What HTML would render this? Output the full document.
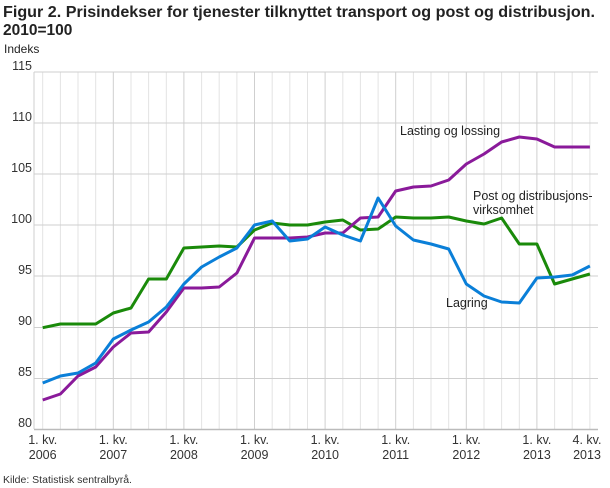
<!DOCTYPE html>
<html><head><meta charset="utf-8"><style>
body{margin:0;background:#fff;}
svg{display:block;font-family:"Liberation Sans",sans-serif;}
</style></head><body>
<svg width="610" height="488" viewBox="0 0 610 488" xmlns="http://www.w3.org/2000/svg">
<text x="3" y="17" font-size="15.5" font-weight="bold" fill="#222" textLength="592" lengthAdjust="spacingAndGlyphs">Figur 2. Prisindekser for tjenester tilknyttet transport og post og distribusjon.</text>
<text x="3" y="35" font-size="15.5" font-weight="bold" fill="#222">2010=100</text>
<text x="4" y="53" font-size="12" fill="#222">Indeks</text>
<g stroke="#e3e3e3" stroke-width="1">
<line x1="42.7" y1="72" x2="42.7" y2="429"/><line x1="60.4" y1="72" x2="60.4" y2="429"/><line x1="78" y1="72" x2="78" y2="429"/><line x1="95.7" y1="72" x2="95.7" y2="429"/>
<line x1="131" y1="72" x2="131" y2="429"/><line x1="148.6" y1="72" x2="148.6" y2="429"/><line x1="166.3" y1="72" x2="166.3" y2="429"/>
<line x1="201.6" y1="72" x2="201.6" y2="429"/><line x1="219.2" y1="72" x2="219.2" y2="429"/><line x1="236.9" y1="72" x2="236.9" y2="429"/>
<line x1="272.2" y1="72" x2="272.2" y2="429"/><line x1="289.8" y1="72" x2="289.8" y2="429"/><line x1="307.5" y1="72" x2="307.5" y2="429"/>
<line x1="342.8" y1="72" x2="342.8" y2="429"/><line x1="360.4" y1="72" x2="360.4" y2="429"/><line x1="378.1" y1="72" x2="378.1" y2="429"/>
<line x1="413.4" y1="72" x2="413.4" y2="429"/><line x1="431" y1="72" x2="431" y2="429"/><line x1="448.7" y1="72" x2="448.7" y2="429"/>
<line x1="484" y1="72" x2="484" y2="429"/><line x1="501.6" y1="72" x2="501.6" y2="429"/><line x1="519.3" y1="72" x2="519.3" y2="429"/>
<line x1="554.6" y1="72" x2="554.6" y2="429"/><line x1="572.2" y1="72" x2="572.2" y2="429"/><line x1="589.9" y1="72" x2="589.9" y2="429"/>
</g>
<g stroke="#cfcfcf" stroke-width="1">
<line x1="113.3" y1="72" x2="113.3" y2="429"/><line x1="183.9" y1="72" x2="183.9" y2="429"/><line x1="254.5" y1="72" x2="254.5" y2="429"/><line x1="325.1" y1="72" x2="325.1" y2="429"/><line x1="395.7" y1="72" x2="395.7" y2="429"/><line x1="466.3" y1="72" x2="466.3" y2="429"/><line x1="536.9" y1="72" x2="536.9" y2="429"/>
<line x1="34" y1="72" x2="598" y2="72"/><line x1="34" y1="123" x2="598" y2="123"/><line x1="34" y1="174" x2="598" y2="174"/><line x1="34" y1="225" x2="598" y2="225"/><line x1="34" y1="276" x2="598" y2="276"/><line x1="34" y1="327.5" x2="598" y2="327.5"/><line x1="34" y1="378.5" x2="598" y2="378.5"/>
<line x1="34" y1="72" x2="34" y2="429"/>
</g>
<line x1="34" y1="429.5" x2="598" y2="429.5" stroke="#bbb" stroke-width="1.5"/>
<g font-size="12.5" fill="#333" text-anchor="end">
<text x="32" y="70">115</text><text x="32" y="121">110</text><text x="32" y="172">105</text><text x="32" y="223">100</text><text x="32" y="274">95</text><text x="32" y="325">90</text><text x="32" y="376">85</text><text x="32" y="427">80</text>
</g>
<g font-size="12.5" fill="#333" text-anchor="middle">
<text x="42.7" y="444">1. kv.</text><text x="42.7" y="459">2006</text>
<text x="113.3" y="444">1. kv.</text><text x="113.3" y="459">2007</text>
<text x="183.9" y="444">1. kv.</text><text x="183.9" y="459">2008</text>
<text x="254.5" y="444">1. kv.</text><text x="254.5" y="459">2009</text>
<text x="325.1" y="444">1. kv.</text><text x="325.1" y="459">2010</text>
<text x="395.7" y="444">1. kv.</text><text x="395.7" y="459">2011</text>
<text x="466.3" y="444">1. kv.</text><text x="466.3" y="459">2012</text>
<text x="536.9" y="444">1. kv.</text><text x="536.9" y="459">2013</text>
<text x="587" y="444">4. kv.</text><text x="587" y="459">2013</text>
</g>
<text x="3" y="483" font-size="10.5" fill="#333">Kilde: Statistisk sentralbyrå.</text>
<g fill="none" stroke-width="3" stroke-linejoin="round">
<polyline stroke="#1a8a0a" points="42.7,327.7 60.4,324 78,324 95.7,324 113.3,313 131,308 148.6,279 166.3,279 183.9,248 201.6,247 219.2,246 236.9,247 254.5,230 272.2,223 289.8,225 307.5,225 325.1,222 342.8,220 360.4,230 378.1,229 395.7,217 413.4,218 431,218 448.7,217 466.3,221 484,224 501.6,218 519.3,244 536.9,244 554.6,284 572.2,279 589.9,274"/>
<polyline stroke="#8a1a9a" points="42.7,400 60.4,394 78,376 95.7,367 113.3,347 131,333 148.6,332 166.3,312 183.9,288 201.6,288 219.2,287 236.9,273 254.5,238 272.2,238 289.8,238 307.5,237 325.1,233 342.8,233 360.4,218 378.1,217 395.7,191 413.4,187 431,186 448.7,180 466.3,164 484,154 501.6,142 519.3,137 536.9,139 554.6,147 572.2,147 589.9,147"/>
<polyline stroke="#0a7fd8" points="42.7,383 60.4,376 78,373 95.7,363 113.3,339 131,330 148.6,322 166.3,307 183.9,284 201.6,267 219.2,257 236.9,248 254.5,225 272.2,221 289.8,241 307.5,239 325.1,227 342.8,235 360.4,241 378.1,198 395.7,226 413.4,240 431,244 448.7,249 466.3,284 484,296 501.6,302 519.3,303 536.9,278 554.6,277 572.2,275 589.9,266"/>
</g>
<g font-size="12.5" fill="#222">
<text x="400" y="135">Lasting og lossing</text>
<text x="473" y="200">Post og distribusjons-</text>
<text x="473" y="214">virksomhet</text>
<text x="446" y="307">Lagring</text>
</g>
</svg>
</body></html>
